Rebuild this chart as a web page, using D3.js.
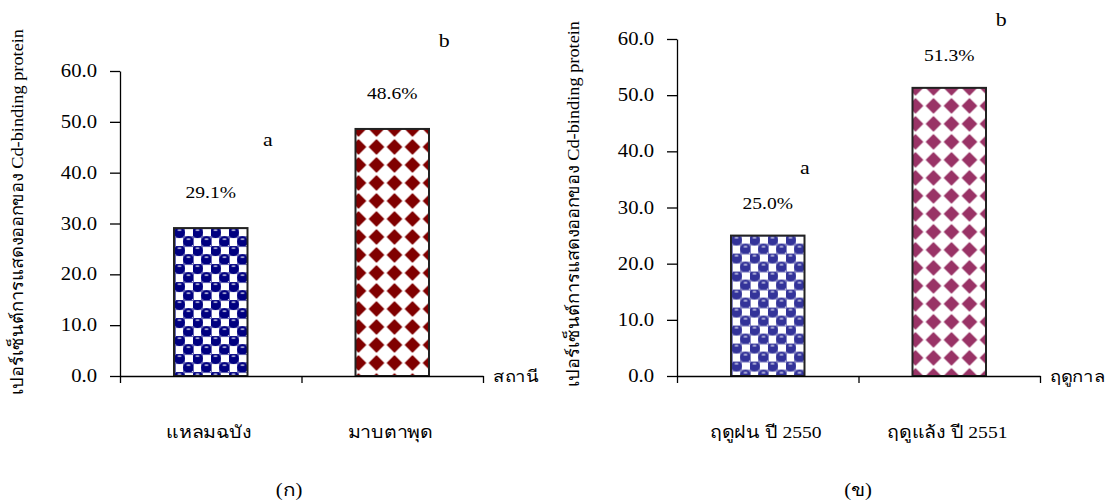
<!DOCTYPE html>
<html>
<head>
<meta charset="utf-8">
<script src="https://cdn.jsdelivr.net/npm/d3@7"></script>
<style>
  body { margin: 0; background: #fff; }
  text { font-family: "Liberation Serif", "Times New Roman", serif; fill: #000; }
</style>
</head>
<body>
<div id="chart"></div>
<script>
// data
const stationNames = ["แหลมฉบัง", "มาบตาพุด"];
const stationValues = [29.1, 48.6];
const stationLetters = ["a", "b"];

const seasonNames = ["ฤดูฝน ปี 2550", "ฤดูแล้ง ปี 2551"];
const seasonValues = [25.0, 51.3];
const seasonLetters = ["a", "b"];

const yTickValues = [0, 10, 20, 30, 40, 50, 60];
const yTitle = "เปอร์เซ็นต์การแสดงออกของ Cd-binding protein";

document.addEventListener('DOMContentLoaded', function () {
    const svg = d3.select("#chart")
        .append("svg")
        .attr("width", 1116)
        .attr("height", 501);

    const defs = svg.append("defs");

    // stretched text, the picture is a bit wider than it is tall
    function label(g, x, y, txt, size, anchor) {
        return g.append("text")
            .attr("transform", "translate(" + x + "," + y + ") scale(1.15,1)")
            .attr("text-anchor", anchor || "middle")
            .style("font-size", size + "px")
            .text(txt);
    }

    function ballPattern(id, color, x0, y0) {
        const p = defs.append("pattern")
            .attr("id", id)
            .attr("patternUnits", "userSpaceOnUse")
            .attr("x", x0).attr("y", y0)
            .attr("width", 18).attr("height", 18);
        p.append("rect").attr("width", 18).attr("height", 18).attr("fill", "#fff");
        p.append("path")
            .attr("d", "M0,9H18M9,0V18M0,0H18M0,0V18")
            .attr("stroke", color).attr("stroke-opacity", 0.6).attr("stroke-width", 2);
        [[4.5, 4.5], [13.5, 13.5]].forEach(function (c) {
            p.append("circle").attr("cx", c[0]).attr("cy", c[1]).attr("r", 5.4).attr("fill", color);
            p.append("ellipse").attr("cx", c[0]).attr("cy", c[1] - 2.4).attr("rx", 2.2).attr("ry", 0.9)
                .attr("fill", "#fff").attr("fill-opacity", 0.7);
        });
        p.append("rect").attr("x", 11).attr("y", 2).attr("width", 5).attr("height", 5).attr("fill", "#fff");
        p.append("rect").attr("x", 2).attr("y", 11).attr("width", 5).attr("height", 5).attr("fill", "#fff");
    }

    function diamondPattern(id, color, x0, y0) {
        const p = defs.append("pattern")
            .attr("id", id)
            .attr("patternUnits", "userSpaceOnUse")
            .attr("x", x0).attr("y", y0)
            .attr("width", 18).attr("height", 18);
        p.append("rect").attr("width", 18).attr("height", 18).attr("fill", "#fff");
        p.append("path")
            .attr("d", "M9,2L16,9L9,16L2,9Z")
            .attr("fill", color)
            .attr("stroke", color).attr("stroke-width", 1.2).attr("stroke-linejoin", "round");
    }

    function drawChart(cfg) {
        const g = svg.append("g");

        const x = d3.scaleBand()
            .domain(cfg.names)
            .range([cfg.left, cfg.right])
            .paddingInner(0.595)
            .paddingOuter(0.2975);

        const xTicks = d3.scaleLinear().domain([0, cfg.names.length]).range([cfg.left, cfg.right]);

        const y = d3.scaleLinear().domain([0, 60]).range([cfg.bottom, cfg.top]);

        // bars
        cfg.values.forEach(function (v, i) {
            const id = cfg.id + "-p" + i;
            const bx = x(cfg.names[i]);
            if (i === 0) ballPattern(id, cfg.colors[i], bx + 1, y(v));
            else diamondPattern(id, cfg.colors[i], bx - 6, y(v) - 9);
            g.append("rect")
                .attr("x", bx)
                .attr("y", y(v))
                .attr("width", x.bandwidth())
                .attr("height", y(0) - y(v))
                .attr("fill", "url(#" + id + ")")
                .attr("stroke", "#222")
                .attr("stroke-width", 2);
        });

        // axes
        const yAxis = g.append("g")
            .attr("transform", "translate(" + cfg.left + ",0)")
            .call(d3.axisLeft(y).tickValues(yTickValues).tickSize(10).tickSizeOuter(0).tickFormat(d3.format(".1f")));
        yAxis.selectAll("text").remove();
        yAxis.selectAll("line, path").attr("stroke", "#000").attr("stroke-width", 1.3);
        yTickValues.forEach(function (t) {
            label(g, cfg.left - 23, y(t) + 6, d3.format(".1f")(t), 18, "end");
        });

        const xAxis = g.append("g")
            .attr("transform", "translate(0," + cfg.bottom + ")")
            .call(d3.axisBottom(xTicks).tickValues([0, 1, 2]).tickSize(7).tickSizeOuter(0).tickFormat(""));
        xAxis.selectAll("line, path").attr("stroke", "#000").attr("stroke-width", 1.3);

        // value and letter labels
        cfg.values.forEach(function (v, i) {
            const cx = x(cfg.names[i]) + x.bandwidth() / 2;
            label(g, cx, y(v) - cfg.valueGap, v.toFixed(1) + "%", 17);
            label(g, cx + cfg.letterDx[i], y(v) - cfg.letterGap, cfg.letters[i], 19);
            label(g, cx - 2, 438, cfg.names[i], 17);
        });

        // axis titles
        label(g, cfg.right + 10, cfg.bottom + 6, cfg.xTitle, 16, "start");
        g.append("text")
            .attr("transform", "translate(" + cfg.yTitleX + "," + cfg.yTitleY + ") rotate(-90)")
            .attr("text-anchor", "middle")
            .attr("textLength", 366)
            .attr("lengthAdjust", "spacingAndGlyphs")
            .style("font-size", "17px")
            .text(yTitle);

        label(g, cfg.captionX, 496, cfg.caption, 18);
    }

    drawChart({
        id: "left", names: stationNames, values: stationValues, letters: stationLetters,
        left: 120, right: 483, top: 71, bottom: 376,
        colors: ["#000080", "#800000"],
        valueGap: 30, letterGap: 82, letterDx: [57, 52],
        xTitle: "สถานี", yTitleX: 23, yTitleY: 212,
        caption: "(ก)", captionX: 289
    });

    drawChart({
        id: "right", names: seasonNames, values: seasonValues, letters: seasonLetters,
        left: 677, right: 1040, top: 39, bottom: 376,
        colors: ["#333399", "#993366"],
        valueGap: 27, letterGap: 62, letterDx: [37, 52],
        xTitle: "ฤดูกาล", yTitleX: 579, yTitleY: 204,
        caption: "(ข)", captionX: 858
    });
});
</script>
</body>
</html>
